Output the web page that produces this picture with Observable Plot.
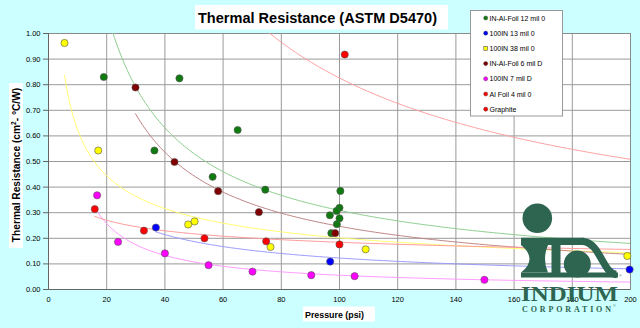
<!DOCTYPE html>
<html><head><meta charset="utf-8">
<script src="https://cdn.jsdelivr.net/npm/d3@7"></script>
<script src="https://cdn.jsdelivr.net/npm/@observablehq/plot@0.6"></script>
<style>
html,body{margin:0;padding:0;background:#ccffff;}
#wrap{position:relative;width:640px;height:328px;background:#ccffff;overflow:hidden;font-family:Arial,"Liberation Sans",sans-serif;}
#wrap svg{position:absolute;left:0;top:0;}
</style></head>
<body><div id="wrap"></div>
<script>
// ---- data ----
const seriesNames = ["IN-Al-Foil 12 mil 0","100IN 13 mil 0","100IN 38 mil 0","IN-Al-Foil 6 mil D","100IN 7 mil D","Al Foil 4 mil 0","Graphite"];
const dotColors   = ["#0f7a0f","#0000ff","#ffff00","#800000","#ff00ff","#ff0000","#ff0000"];
const lineColors  = ["#8fcf8f","#9a9aff","#ffff70","#c08585","#ff99ff","#ff9a9a","#ffa0a0"];

const greenX = [19, 45, 65, 36.4, 56.4, 74.5, 100.3, 100, 99, 96.7, 100, 99.1, 97.2];
const greenY = [0.83, 0.825, 0.623, 0.543, 0.44, 0.39, 0.385, 0.319, 0.307, 0.29, 0.278, 0.255, 0.22];
const blueX = [36.9, 96.8, 199.7];
const blueY = [0.242, 0.109, 0.078];
const yellowX = [5.5, 17.1, 48, 50.2, 76.3, 109, 198.9];
const yellowY = [0.963, 0.543, 0.254, 0.266, 0.166, 0.157, 0.131];
const darkRedX = [29.9, 43.3, 58.3, 72.3, 98.5];
const darkRedY = [0.789, 0.498, 0.384, 0.302, 0.22];
const magentaX = [16.7, 23.9, 40, 55, 70.1, 90.3, 105.2, 149.8];
const magentaY = [0.368, 0.186, 0.141, 0.095, 0.07, 0.056, 0.052, 0.038];
const redX = [15.9, 32.8, 53.6, 74.8, 100];
const redY = [0.314, 0.23, 0.20, 0.188, 0.176];
const graphiteX = [101.8];
const graphiteY = [0.918];

// power trendlines y = a * x^b (as shown by the chart's trendlines)
const trendA = [11.22, 2.02, 1.927, 12.2, 4.43, 0.552, 20.75];
const trendB = [-0.78, -0.608, -0.49, -0.847, -0.95, -0.238, -0.70];
const trendXmin = [19, 36.9, 5.5, 29.9, 16.7, 15.9, 40];
const trendXmax = [200, 200, 200, 200, 200, 200, 200];

const xTicks = [0,20,40,60,80,100,120,140,160,180,200];
const yTicks = [0,0.1,0.2,0.3,0.4,0.5,0.6,0.7,0.8,0.9,1.0];

// ---- build tables ----
const seriesXY = [[greenX,greenY],[blueX,blueY],[yellowX,yellowY],[darkRedX,darkRedY],[magentaX,magentaY],[redX,redY],[graphiteX,graphiteY]];
const points = [];
seriesXY.forEach(([xs,ys],i)=>xs.forEach((x,j)=>points.push({series:seriesNames[i], x, y:ys[j], color:dotColors[i]})));
const trend = [];
seriesNames.forEach((s,i)=>{
  const n = 200;
  for(let k=0;k<=n;k++){
    const x = trendXmin[i] + (trendXmax[i]-trendXmin[i])*k/n;
    trend.push({series:s, x, y: trendA[i]*Math.pow(x,trendB[i]), color:lineColors[i]});
  }
});

const chart = Plot.plot({
  width: 640, height: 328,
  marginTop: 33, marginBottom: 39, marginLeft: 48, marginRight: 10,
  style: {background:"transparent", fontFamily:"Arial, 'Liberation Sans', sans-serif", fontSize:"7.5px", color:"#000"},
  color: {type:"identity"},
  x: {domain:[0,200], label:null},
  y: {domain:[0,1], label:null},
  marks: [
    Plot.frame({fill:"white", stroke:null}),
    Plot.gridX(xTicks, {stroke:"#9a9a9a", strokeOpacity:1}),
    Plot.gridY(yTicks, {stroke:"#9a9a9a", strokeOpacity:1}),
    Plot.frame({stroke:"#8a8a8a"}),
    Plot.ruleX([0], {stroke:"#666"}),
    Plot.ruleY([0], {stroke:"#666"}),
    Plot.axisX(xTicks, {tickSize:0, tickPadding:7, tickFormat:d=>String(d), label:null}),
    Plot.axisY(yTicks, {tickSize:5, tickPadding:3, tickFormat:d3.format(".2f"), label:null, stroke:"#666"}),
    Plot.line(trend, {x:"x", y:"y", z:"series", stroke:"color", strokeWidth:1, clip:true}),
    Plot.dot(points, {x:"x", y:"y", fill:"color", stroke:"#555", strokeWidth:0.6, r:3.6})
  ]
});
document.getElementById("wrap").appendChild(chart);

// ---- overlay: title, axis titles, legend, logo ----
const ov = d3.select("#wrap").append("svg").attr("width",640).attr("height",328)
  .style("font-family","Arial, 'Liberation Sans', sans-serif");

// title
ov.append("rect").attr("x",195).attr("y",5).attr("width",253).attr("height",24.5).attr("fill","white");
ov.append("text").attr("x",317.5).attr("y",22.5).attr("text-anchor","middle")
  .attr("font-size",14.5).attr("font-weight","bold").attr("textLength",239).attr("lengthAdjust","spacingAndGlyphs")
  .text("Thermal Resistance (ASTM D5470)");

// y title
ov.append("rect").attr("x",9).attr("y",83).attr("width",14).attr("height",165).attr("fill","white");
const yt = ov.append("text").attr("transform","translate(20,165) rotate(-90)").attr("text-anchor","middle")
  .attr("font-size",10.2).attr("font-weight","bold");
yt.append("tspan").text("Thermal Resistance  (cm");
yt.append("tspan").attr("font-size",6.5).attr("dy",-4.5).text("2");
yt.append("tspan").attr("dy",4.5).text("- °C/W)");

// x title
ov.append("rect").attr("x",303).attr("y",306.5).attr("width",72).attr("height",15).attr("fill","white");
ov.append("text").attr("x",305).attr("y",317.5).attr("font-size",9).attr("font-weight","bold")
  .attr("textLength",59).attr("lengthAdjust","spacingAndGlyphs").text("Pressure (psi)");

// legend
ov.append("rect").attr("x",470.5).attr("y",10.5).attr("width",92).attr("height",105.5)
  .attr("fill","white").attr("stroke","#999").attr("stroke-width",1);
seriesNames.forEach((s,i)=>{
  const y = 18 + i*15.2;
  if (i===2) {
    ov.append("rect").attr("x",483.8).attr("y",y-1.9).attr("width",3.8).attr("height",3.8)
      .attr("fill",dotColors[i]).attr("stroke","#555").attr("stroke-width",0.6);
  } else {
    ov.append("circle").attr("cx",485.7).attr("cy",y).attr("r",2.1)
      .attr("fill",dotColors[i]).attr("stroke","#444").attr("stroke-width",0.4);
  }
  ov.append("text").attr("x",489.5).attr("y",y+2.5).attr("font-size",7).text(s);
});

// Indium logo
const lg = "#2d6551";
const logo = ov.append("g").attr("fill",lg);
logo.append("circle").attr("cx",537.3).attr("cy",218.3).attr("r",14.8);
logo.append("rect").attr("x",521).attr("y",237.7).attr("width",63).attr("height",7.3);
logo.append("path").attr("d","M582 241.3 C600 241.3 603 274.5 616.5 274.5").attr("fill","none").attr("stroke",lg).attr("stroke-width",7.3);
logo.append("rect").attr("x",521).attr("y",272.5).attr("width",97).attr("height",5);
logo.append("path").attr("d","M521 245 Q538 259 521 272.5 L548 272.5 Q542 259 548 245 Z");
logo.append("rect").attr("x",551.5).attr("y",245).attr("width",9).attr("height",28);
logo.append("circle").attr("cx",577.3).attr("cy",264).attr("r",13.5);
logo.append("text").attr("x",521).attr("y",300.5).attr("font-family","'Liberation Serif','DejaVu Serif',serif")
  .attr("font-weight","bold").attr("font-size",21).attr("textLength",97).attr("lengthAdjust","spacingAndGlyphs").text("INDIUM");
logo.append("text").attr("x",522).attr("y",311.5).attr("font-family","'Liberation Serif','DejaVu Serif',serif")
  .attr("font-weight","bold").attr("font-size",8).attr("textLength",89).attr("lengthAdjust","spacing").text("CORPORATION");
logo.append("text").attr("x",613).attr("y",307).attr("font-size",3.5).text("®");
logo.append("text").attr("x",619).attr("y",277).attr("font-size",3.5).text("®");
</script>
</body></html>
